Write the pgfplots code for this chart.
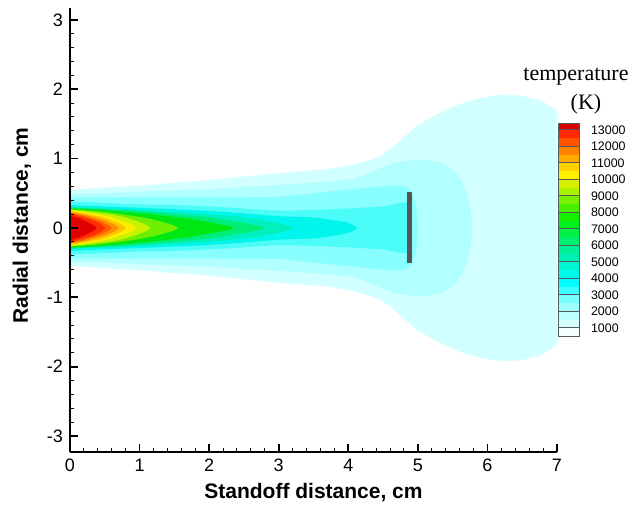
\documentclass[border=0pt]{standalone}
\usepackage{fontspec}
\setmainfont{Liberation Sans}
\newfontfamily\seriffont{Liberation Serif}
\usepackage{pgfplots}
\pgfplotsset{compat=1.18}
% plot region colours
\definecolor{P1}{RGB}{210,255,255}
\definecolor{P2}{RGB}{178,255,255}
\definecolor{P3}{RGB}{135,255,255}
\definecolor{P4}{RGB}{75,252,248}
\definecolor{P5}{RGB}{0,246,236}
\definecolor{P6}{RGB}{0,240,190}
\definecolor{P7}{RGB}{0,238,120}
\definecolor{P8}{RGB}{0,232,20}
\definecolor{P9}{RGB}{110,238,0}
\definecolor{P10}{RGB}{200,242,0}
\definecolor{P11}{RGB}{255,238,0}
\definecolor{P12}{RGB}{255,195,0}
\definecolor{P13}{RGB}{255,145,0}
\definecolor{P14}{RGB}{255,95,0}
\definecolor{P15}{RGB}{255,45,0}
\definecolor{P16}{RGB}{225,0,0}
\definecolor{plategray}{RGB}{85,85,85}
% colour bar bands
\definecolor{c05}{RGB}{245,255,255}
\definecolor{c10}{RGB}{215,255,255}
\definecolor{c15}{RGB}{190,255,255}
\definecolor{c20}{RGB}{160,255,255}
\definecolor{c25}{RGB}{120,255,255}
\definecolor{c30}{RGB}{60,255,255}
\definecolor{c35}{RGB}{0,255,255}
\definecolor{c40}{RGB}{0,250,235}
\definecolor{c45}{RGB}{0,245,210}
\definecolor{c50}{RGB}{0,240,180}
\definecolor{c55}{RGB}{0,240,150}
\definecolor{c60}{RGB}{0,240,110}
\definecolor{c65}{RGB}{0,240,70}
\definecolor{c70}{RGB}{0,240,30}
\definecolor{c75}{RGB}{20,240,0}
\definecolor{c80}{RGB}{70,240,0}
\definecolor{c85}{RGB}{120,240,0}
\definecolor{c90}{RGB}{170,240,0}
\definecolor{c95}{RGB}{215,240,0}
\definecolor{c100}{RGB}{255,240,0}
\definecolor{c105}{RGB}{255,210,0}
\definecolor{c110}{RGB}{255,170,0}
\definecolor{c115}{RGB}{255,130,0}
\definecolor{c120}{RGB}{255,85,0}
\definecolor{c125}{RGB}{255,40,0}
\definecolor{c130}{RGB}{215,0,0}
\begin{document}
\begin{tikzpicture}
\path[use as bounding box] (0,0) rectangle (316.5pt,255pt);
\begin{axis}[
  at={(35pt,29pt)}, anchor=south west, scale only axis,
  width=243.5pt, height=222pt,
  xmin=0, xmax=7, ymin=-3.23, ymax=3.17,
  axis x line*=bottom, axis y line*=left,
  xtick={0,1,...,7}, ytick={-3,-2,...,3},
  minor x tick num=4, minor y tick num=4,
  tick align=inside,
  major tick length=4pt, minor tick length=2pt,
  every major tick/.style={black, line width=0.9pt},
  every minor tick/.style={black, line width=0.5pt},
  axis line style={black, line width=1pt},
  tick label style={font=\fontsize{9}{10}\selectfont},
  /pgf/number format/assume math mode=true,
  xlabel={Standoff distance, cm},
  ylabel={Radial distance, cm},
  label style={font=\fontsize{10.5}{12}\selectfont\bfseries},
  xlabel style={at={(axis description cs:0.5,-0.092)}, anchor=center},
  ylabel style={at={(axis description cs:-0.099,0.51)}, anchor=center},
  axis on top,
]
\addplot[fill=P1, draw=none, smooth] coordinates {(0,0.55)(0.5,0.58)(1,0.61)(1.5,0.65)(2,0.69)(2.5,0.74)(3,0.79)(3.5,0.83)(3.8,0.86)(4.1,0.92)(4.45,1.03)(4.7,1.22)(4.95,1.44)(5.3,1.65)(5.65,1.80)(6,1.89)(6.25,1.92)(6.5,1.90)(6.75,1.84)(6.9,1.76)(7,1.68)(7.3,1.5)
(7.3,-1.5)(7,-1.68)(6.9,-1.76)(6.75,-1.84)(6.5,-1.90)(6.25,-1.92)(6,-1.89)(5.65,-1.80)(5.3,-1.65)(4.95,-1.44)(4.7,-1.22)(4.45,-1.03)(4.1,-0.92)(3.8,-0.86)(3.5,-0.83)(3,-0.79)(2.5,-0.74)(2,-0.69)(1.5,-0.65)(1,-0.61)(0.5,-0.58)(0,-0.55)} -- cycle;
\addplot[fill=P2, draw=none, smooth] coordinates {(0,0.49)(0.5,0.5)(1,0.52)(1.5,0.54)(2,0.56)(2.5,0.59)(3,0.62)(3.5,0.655)(4,0.70)(4.3,0.79)(4.55,0.90)(4.84,0.97)(5.1,0.98)(5.32,0.94)(5.5,0.84)(5.65,0.64)(5.74,0.36)(5.78,0)
(5.74,-0.36)(5.65,-0.64)(5.5,-0.84)(5.32,-0.94)(5.1,-0.98)(4.84,-0.97)(4.55,-0.90)(4.3,-0.79)(4,-0.70)(3.5,-0.655)(3,-0.62)(2.5,-0.59)(2,-0.56)(1.5,-0.54)(1,-0.52)(0.5,-0.5)(0,-0.49)} -- cycle;
\addplot[fill=P3, draw=none, smooth] coordinates {(0,0.44)(1,0.44)(2,0.44)(3,0.45)(3.5,0.50)(4,0.55)(4.4,0.59)(4.75,0.61)(4.88,0.56)(4.95,0.40)(4.99,0.2)(5.0,0)
(4.99,-0.2)(4.95,-0.40)(4.88,-0.56)(4.75,-0.61)(4.4,-0.59)(4,-0.55)(3.5,-0.50)(3,-0.45)(2,-0.44)(1,-0.44)(0,-0.44)} -- cycle;
\addplot[fill=P4, draw=none, smooth] coordinates {(0,0.38)(0.5,0.36)(1,0.34)(1.5,0.33)(2,0.31)(2.5,0.28)(3,0.25)(3.5,0.26)(4,0.28)(4.5,0.31)(4.87,0.33)
(4.87,-0.33)(4.5,-0.31)(4,-0.28)(3.5,-0.26)(3,-0.25)(2.5,-0.28)(2,-0.31)(1.5,-0.33)(1,-0.34)(0.5,-0.36)(0,-0.38)} -- cycle;
\addplot[fill=P5, draw=none, smooth] coordinates {(0,0.33)(0.5,0.31)(1,0.29)(1.5,0.27)(2,0.245)(2.5,0.21)(3,0.17)(3.5,0.15)(3.8,0.11)(4.0,0.07)(4.12,0)
(4.0,-0.07)(3.8,-0.11)(3.5,-0.15)(3,-0.17)(2.5,-0.21)(2,-0.245)(1.5,-0.27)(1,-0.29)(0.5,-0.31)(0,-0.33)} -- cycle;
\addplot[fill=P6, draw=none, smooth] coordinates {(0,0.305)(0.5,0.285)(1,0.265)(1.5,0.235)(2,0.2)(2.5,0.15)(2.9,0.09)(3.2,0)
(2.9,-0.09)(2.5,-0.15)(2,-0.2)(1.5,-0.235)(1,-0.265)(0.5,-0.285)(0,-0.305)} -- cycle;
\addplot[fill=P7, draw=none, smooth] coordinates {(0,0.295)(0.5,0.27)(1,0.24)(1.5,0.2)(2,0.15)(2.4,0.09)(2.8,0)
(2.4,-0.09)(2,-0.15)(1.5,-0.2)(1,-0.24)(0.5,-0.27)(0,-0.295)} -- cycle;
\addplot[fill=P8, draw=none, smooth] coordinates {(0,0.285)(0.5,0.255)(1,0.215)(1.5,0.16)(1.9,0.1)(2.35,0)
(1.9,-0.1)(1.5,-0.16)(1,-0.215)(0.5,-0.255)(0,-0.285)} -- cycle;
\addplot[fill=P9, draw=none, smooth] coordinates {(0,0.27)(0.4,0.24)(0.8,0.19)(1.2,0.12)(1.55,0)
(1.2,-0.12)(0.8,-0.19)(0.4,-0.24)(0,-0.27)} -- cycle;
\addplot[fill=P10, draw=none, smooth] coordinates {(0,0.26)(0.4,0.22)(0.8,0.15)(1.15,0)
(0.8,-0.15)(0.4,-0.22)(0,-0.26)} -- cycle;
\addplot[fill=P11, draw=none, smooth] coordinates {(0,0.25)(0.3,0.21)(0.6,0.15)(0.95,0)
(0.6,-0.15)(0.3,-0.21)(0,-0.25)} -- cycle;
\addplot[fill=P12, draw=none, smooth] coordinates {(0,0.24)(0.3,0.19)(0.55,0.13)(0.8,0)
(0.55,-0.13)(0.3,-0.19)(0,-0.24)} -- cycle;
\addplot[fill=P13, draw=none, smooth] coordinates {(0,0.23)(0.25,0.18)(0.5,0.11)(0.7,0)
(0.5,-0.11)(0.25,-0.18)(0,-0.23)} -- cycle;
\addplot[fill=P14, draw=none, smooth] coordinates {(0,0.22)(0.25,0.16)(0.45,0.09)(0.6,0)
(0.45,-0.09)(0.25,-0.16)(0,-0.22)} -- cycle;
\addplot[fill=P15, draw=none, smooth] coordinates {(0,0.205)(0.2,0.15)(0.4,0.08)(0.5,0)
(0.4,-0.08)(0.2,-0.15)(0,-0.205)} -- cycle;
\addplot[fill=P16, draw=none, smooth] coordinates {(0,0.18)(0.15,0.13)(0.3,0.06)(0.38,0)
(0.3,-0.06)(0.15,-0.13)(0,-0.18)} -- cycle;
% target plate
\addplot[fill=plategray, draw=none] coordinates {(4.84,-0.51)(4.91,-0.51)(4.91,0.52)(4.84,0.52)} -- cycle;
\end{axis}
% colour bar
\begin{axis}[
  at={(279pt,87pt)}, anchor=south west, scale only axis,
  width=10.5pt, height=106.5pt,
  xmin=0, xmax=1, ymin=500, ymax=13420,
  xtick=\empty, ytick={1000,2000,...,13000},
  scaled y ticks=false,
  /pgf/number format/set thousands separator={},
  /pgf/number format/assume math mode=true,
  yticklabel pos=right,
  major tick length=0pt,
  ymajorgrids, grid style={black!65, line width=0.5pt},
  axis line style={black!65, line width=0.5pt},
  yticklabel style={font=\fontsize{6.2}{7}\selectfont, xshift=2.5pt},
  axis on top,
]
\addplot[fill=c05, draw=none] coordinates {(0,500)(1,500)(1,1000)(0,1000)} -- cycle;
\addplot[fill=c10, draw=none] coordinates {(0,1000)(1,1000)(1,1500)(0,1500)} -- cycle;
\addplot[fill=c15, draw=none] coordinates {(0,1500)(1,1500)(1,2000)(0,2000)} -- cycle;
\addplot[fill=c20, draw=none] coordinates {(0,2000)(1,2000)(1,2500)(0,2500)} -- cycle;
\addplot[fill=c25, draw=none] coordinates {(0,2500)(1,2500)(1,3000)(0,3000)} -- cycle;
\addplot[fill=c30, draw=none] coordinates {(0,3000)(1,3000)(1,3500)(0,3500)} -- cycle;
\addplot[fill=c35, draw=none] coordinates {(0,3500)(1,3500)(1,4000)(0,4000)} -- cycle;
\addplot[fill=c40, draw=none] coordinates {(0,4000)(1,4000)(1,4500)(0,4500)} -- cycle;
\addplot[fill=c45, draw=none] coordinates {(0,4500)(1,4500)(1,5000)(0,5000)} -- cycle;
\addplot[fill=c50, draw=none] coordinates {(0,5000)(1,5000)(1,5500)(0,5500)} -- cycle;
\addplot[fill=c55, draw=none] coordinates {(0,5500)(1,5500)(1,6000)(0,6000)} -- cycle;
\addplot[fill=c60, draw=none] coordinates {(0,6000)(1,6000)(1,6500)(0,6500)} -- cycle;
\addplot[fill=c65, draw=none] coordinates {(0,6500)(1,6500)(1,7000)(0,7000)} -- cycle;
\addplot[fill=c70, draw=none] coordinates {(0,7000)(1,7000)(1,7500)(0,7500)} -- cycle;
\addplot[fill=c75, draw=none] coordinates {(0,7500)(1,7500)(1,8000)(0,8000)} -- cycle;
\addplot[fill=c80, draw=none] coordinates {(0,8000)(1,8000)(1,8500)(0,8500)} -- cycle;
\addplot[fill=c85, draw=none] coordinates {(0,8500)(1,8500)(1,9000)(0,9000)} -- cycle;
\addplot[fill=c90, draw=none] coordinates {(0,9000)(1,9000)(1,9500)(0,9500)} -- cycle;
\addplot[fill=c95, draw=none] coordinates {(0,9500)(1,9500)(1,10000)(0,10000)} -- cycle;
\addplot[fill=c100, draw=none] coordinates {(0,10000)(1,10000)(1,10500)(0,10500)} -- cycle;
\addplot[fill=c105, draw=none] coordinates {(0,10500)(1,10500)(1,11000)(0,11000)} -- cycle;
\addplot[fill=c110, draw=none] coordinates {(0,11000)(1,11000)(1,11500)(0,11500)} -- cycle;
\addplot[fill=c115, draw=none] coordinates {(0,11500)(1,11500)(1,12000)(0,12000)} -- cycle;
\addplot[fill=c120, draw=none] coordinates {(0,12000)(1,12000)(1,12500)(0,12500)} -- cycle;
\addplot[fill=c125, draw=none] coordinates {(0,12500)(1,12500)(1,13000)(0,13000)} -- cycle;
\addplot[fill=c130, draw=none] coordinates {(0,13000)(1,13000)(1,13420)(0,13420)} -- cycle;
\end{axis}
\node[font=\seriffont\fontsize{11}{13}\selectfont] at (288pt,216.5pt) {temperature};
\node[font=\seriffont\fontsize{11}{13}\selectfont] at (293pt,203pt) {(K)};
\end{tikzpicture}
\end{document}
